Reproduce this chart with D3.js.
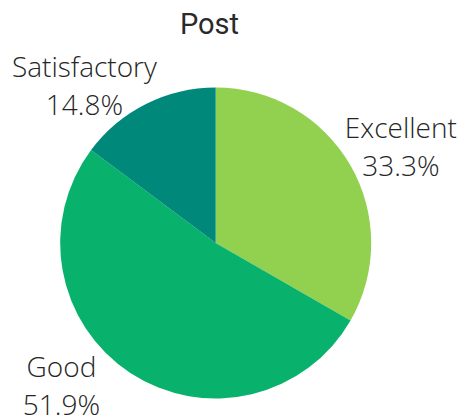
<!DOCTYPE html>
<html>
<head>
<meta charset="utf-8">
<script src="https://cdn.jsdelivr.net/npm/d3@7/dist/d3.min.js"></script>
<style>
  html, body { margin: 0; padding: 0; background: #ffffff; }
  svg { display: block; }
</style>
</head>
<body>
<svg id="chart" width="470" height="418"></svg>
<script>
// Survey ratings after the session
const categories = ["Excellent", "Good", "Satisfactory"];
const percents = [33.3, 51.9, 14.8];
const sliceColors = ["#92d050", "#08b26c", "#00897b"];
const chartTitle = "Post";

const width = 470, height = 418;
const cx = 215.7, cy = 243, radius = 155.5;

const svg = d3.select("#chart");

svg.append("text")
  .attr("x", 209.5)
  .attr("y", 34)
  .attr("text-anchor", "middle")
  .attr("font-family", "Roboto, 'Open Sans', sans-serif")
  .attr("font-weight", 400)
  .attr("font-size", 29)
  .attr("fill", "#2a2a2a")
  .text(chartTitle);

const data = categories.map((c, i) => ({ name: c, value: percents[i], color: sliceColors[i] }));

const pie = d3.pie().value(d => d.value).sort(null);
const arc = d3.arc().innerRadius(0).outerRadius(radius);
const arcs = pie(data);

const g = svg.append("g").attr("transform", `translate(${cx},${cy})`);

g.selectAll("path.slice")
  .data(arcs)
  .join("path")
  .attr("class", "slice")
  .attr("d", arc)
  .attr("fill", d => d.data.color);

// Label anchor: point on a ring outside the pie at each slice's mid-angle,
// then shifted so the two-line block sits clear of the rim.
const labelRing = 180;
const labelNudge = {
  "Excellent": { dx: 29.4, dy: -15 },
  "Good": { dx: -55.4, dy: -16.5 },
  "Satisfactory": { dx: -50.6, dy: -5 }
};
const lineGap = 38;

arcs.forEach(d => {
  const mid = (d.startAngle + d.endAngle) / 2;
  const nx = Math.sin(mid) * labelRing + labelNudge[d.data.name].dx;
  const ny = -Math.cos(mid) * labelRing + labelNudge[d.data.name].dy;
  const t = g.append("text")
    .attr("text-anchor", "middle")
    .attr("font-family", "'Open Sans', sans-serif")
    .attr("font-weight", 300)
    .attr("font-size", 28)
    .attr("fill", "#262626");
  t.append("tspan").attr("x", nx).attr("y", ny).text(d.data.name);
  t.append("tspan").attr("x", nx).attr("y", ny + lineGap).text(d3.format(".1f")(d.data.value) + "%");
});
</script>
</body>
</html>
